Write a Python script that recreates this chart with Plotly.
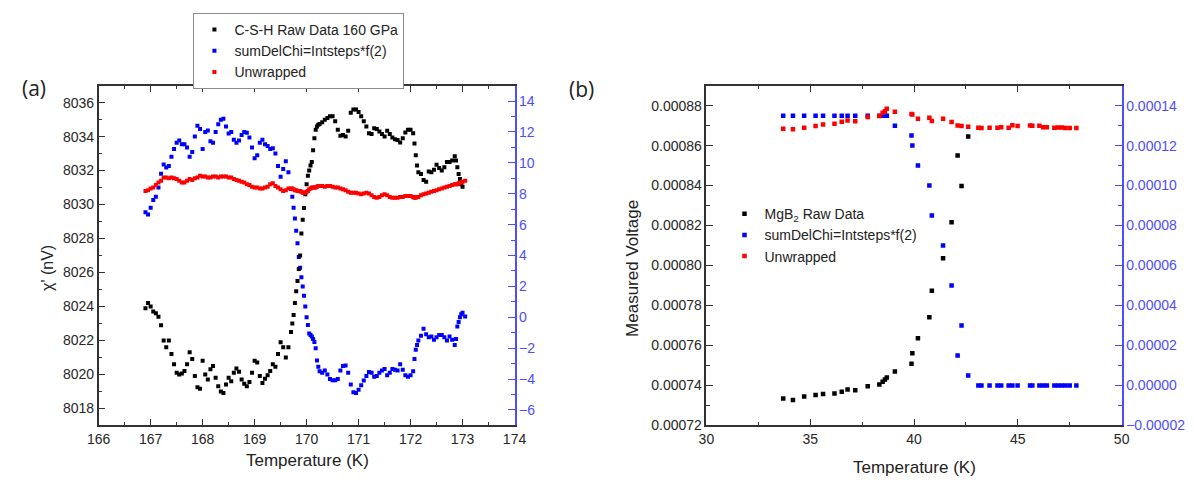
import plotly.graph_objects as go

# page is rendered with the browser's default 8px body margin: work in page pixels and convert
PAGE_W, PAGE_H = 1198, 484
OFF = 8
W, H = PAGE_W - OFF, PAGE_H - OFF


def fx(px):
    return (px - OFF) / W


def fy(py):
    return 1 - (py - OFF) / H


# ---------------- Panel (a): C-S-H 160 GPa ----------------
csh_temp = [
    166.90, 166.95, 167.00, 167.05, 167.10, 167.15, 167.20, 167.25, 167.30, 167.35,
    167.40, 167.45, 167.50, 167.55, 167.60, 167.65, 167.70, 167.75, 167.80, 167.85,
    167.90, 167.95, 168.00, 168.05, 168.10, 168.15, 168.20, 168.25, 168.30, 168.35,
    168.40, 168.45, 168.50, 168.55, 168.60, 168.65, 168.70, 168.75, 168.80, 168.85,
    168.90, 168.95, 169.00, 169.05, 169.10, 169.15, 169.20, 169.25, 169.30, 169.35,
    169.40, 169.45, 169.50, 169.55, 169.60, 169.65, 169.70, 169.75, 169.80, 169.85,
    169.90, 169.95, 170.00, 170.05, 170.10, 170.15, 170.20, 170.25, 170.30, 170.35,
    170.40, 170.45, 170.50, 170.55, 170.60, 170.65, 170.70, 170.75, 170.80, 170.85,
    170.90, 170.95, 171.00, 171.05, 171.10, 171.15, 171.20, 171.25, 171.30, 171.35,
    171.40, 171.45, 171.50, 171.55, 171.60, 171.65, 171.70, 171.75, 171.80, 171.85,
    171.90, 171.95, 172.00, 172.05, 172.10, 172.15, 172.20, 172.25, 172.30, 172.35,
    172.40, 172.45, 172.50, 172.55, 172.60, 172.65, 172.70, 172.75, 172.80, 172.85,
    172.90, 172.95, 173.00, 173.05,
    # denser readings in the steep parts
    169.725, 169.775, 169.825, 169.875, 169.925, 169.975, 170.025, 170.075, 170.125, 170.175,
    170.225, 172.075, 172.125, 172.875, 172.925, 172.975,
]

csh_raw = [
    8023.9, 8024.2, 8024.0, 8023.7, 8023.6, 8023.4, 8022.9, 8022.0, 8021.6, 8022.0,
    8021.2, 8020.6, 8020.1, 8020.0, 8020.05, 8020.2, 8020.6, 8021.3, 8020.9, 8019.9,
    8019.25, 8019.15, 8020.8, 8020.0, 8019.7, 8020.3, 8020.5, 8019.8, 8019.3, 8019.0,
    8018.9, 8019.4, 8019.8, 8019.6, 8020.1, 8020.35, 8020.15, 8019.7, 8019.45, 8019.3,
    8019.55, 8020.1, 8020.8, 8020.7, 8019.9, 8019.5, 8019.75, 8019.95, 8020.2, 8020.6,
    8020.45, 8021.2, 8021.9, 8021.6, 8021.0, 8021.6, 8022.5, 8023.5, 8024.9, 8026.2,
    8028.3, 8029.8, 8031.2, 8032.0, 8032.5, 8033.9, 8034.6, 8034.75, 8034.85, 8035.0,
    8035.1, 8035.2, 8035.2, 8034.9, 8034.4, 8034.05, 8034.1, 8034.0, 8034.35, 8035.4,
    8035.6, 8035.6, 8035.45, 8035.2, 8034.9, 8034.6, 8034.2, 8034.15, 8034.5, 8034.45,
    8034.3, 8034.15, 8034.0, 8034.35, 8034.15, 8033.95, 8033.85, 8033.8, 8033.65, 8033.9,
    8034.25, 8034.4, 8034.4, 8034.2, 8032.9, 8031.9, 8031.8, 8031.45, 8031.35, 8031.95,
    8031.9, 8032.05, 8032.35, 8032.15, 8032.0, 8032.2, 8032.5, 8032.5, 8032.6, 8032.85,
    8032.2, 8031.5, 8031.05, None,
    8023.0, 8024.2, 8025.5, 8027.0, 8029.1, 8030.6, 8031.7, 8032.3, 8033.2, 8034.4,
    8034.7, 8033.6, 8032.3, 8032.6, 8031.8, 8031.2,
]

csh_sumdelchi = [
    6.8, 6.65, 7.1, 7.6, 7.8, 8.4, 9.3, 9.9, 9.7, 9.8,
    10.4, 10.9, 11.3, 11.45, 11.2, 11.2, 11.0, 10.4, 10.7, 11.7,
    12.4, 12.2, 10.9, 12.0, 12.1, 11.4, 11.3, 12.0, 12.5, 12.8,
    12.85, 12.35, 11.9, 12.0, 11.5, 11.3, 11.45, 11.8, 12.0, 11.95,
    11.65, 11.0, 10.3, 10.5, 11.3, 11.5, 11.2, 11.1, 10.9, 10.95,
    10.6, 9.8, 9.1, 9.6, 10.1, 9.4, 8.3, 7.1, 5.6, 3.9,
    2.6, 1.4, 0.0, -1.05, -1.25, -1.6, -2.8, -3.5, -3.6, -3.45,
    -3.7, -4.0, -4.08, -4.08, -4.0, -3.45, -3.15, -3.13, -3.6, -4.35,
    -4.85, -4.9, -4.7, -4.4, -4.1, -3.8, -3.55, -3.6, -3.85, -3.8,
    -3.6, -3.45, -3.35, -3.75, -3.6, -3.35, -3.4, -3.45, -3.05, -3.4,
    -3.75, -3.85, -3.75, -3.5, -2.1, -1.5, -1.2, -0.75, -1.1, -1.3,
    -1.25, -1.45, -1.3, -1.15, -1.15, -1.3, -1.5, -1.25, -1.45, -1.8,
    -0.6, 0.0, 0.3, 0.05,
    7.8, 6.4, 4.8, 3.2, 2.0, 0.7, -0.5, -1.15, -1.4, -2.0,
    -3.2, -2.7, -1.8, -1.4, -0.3, 0.2,
]

csh_unwrapped = [
    8030.8, 8030.85, 8030.95, 8031.0, 8031.15, 8031.3, 8031.4, 8031.6, 8031.6, 8031.55,
    8031.6, 8031.55, 8031.5, 8031.4, 8031.3, 8031.3, 8031.4, 8031.5, 8031.45, 8031.55,
    8031.6, 8031.7, 8031.65, 8031.65, 8031.6, 8031.6, 8031.65, 8031.65, 8031.6, 8031.65,
    8031.65, 8031.65, 8031.6, 8031.6, 8031.5, 8031.45, 8031.4, 8031.35, 8031.3, 8031.2,
    8031.15, 8031.05, 8031.0, 8031.0, 8030.95, 8030.95, 8031.0, 8031.05, 8031.2, 8031.25,
    8031.1, 8031.0, 8030.9, 8030.8, 8030.85, 8030.95, 8030.95, 8030.9, 8030.85, 8030.8,
    8030.75, 8030.7, 8030.75, 8030.9, 8031.0, 8031.0, 8031.05, 8031.1, 8031.1, 8031.05,
    8031.1, 8031.1, 8031.05, 8031.0, 8031.0, 8030.95, 8030.9, 8030.85, 8030.75, 8030.7,
    8030.7, 8030.7, 8030.65, 8030.6, 8030.65, 8030.7, 8030.65, 8030.55, 8030.45, 8030.4,
    8030.45, 8030.55, 8030.6, 8030.55, 8030.45, 8030.4, 8030.4, 8030.4, 8030.45, 8030.45,
    8030.5, 8030.5, 8030.5, 8030.45, 8030.4, 8030.45, 8030.55, 8030.6, 8030.65, 8030.7,
    8030.75, 8030.8, 8030.85, 8030.9, 8030.95, 8031.0, 8031.05, 8031.1, 8031.15, 8031.2,
    8031.2, 8031.3, 8031.35, 8031.4,
    8030.95, 8030.85, 8030.8, 8030.8, 8030.7, 8030.7, 8030.8, 8030.95, 8031.0, 8031.0,
    8031.1, 8030.4, 8030.45, 8031.2, 8031.25, 8031.3,
]

# ---------------- Panel (b): MgB2 ----------------
mgb2_temp = [
    33.70, 34.17, 34.71, 35.26, 35.62, 36.17, 36.52, 36.80, 37.17, 37.77,
    38.33, 38.49, 38.60, 38.69, 39.08, 39.88, 39.92, 40.19, 40.74, 40.86,
    41.40, 41.81, 42.10, 42.29, 42.61,
    43.10, 43.25, 43.64, 44.02, 44.20, 44.56, 44.74, 44.99, 45.59, 45.70,
    46.04, 46.22, 46.40, 46.76, 46.94, 47.12, 47.30, 47.50, 47.82,
]

mgb2_raw = [
    0.0007335, 0.0007327, 0.0007344, 0.0007352, 0.0007357, 0.0007360, 0.0007368, 0.0007380, 0.0007376, 0.0007396,
    0.0007404, 0.0007418, 0.0007430, 0.0007440, 0.0007470, 0.0007508, 0.0007561, 0.0007636, 0.0007741, 0.0007874,
    0.0008036, 0.0008217, 0.0008551, 0.0008398, 0.0008646,
    None, None, None, None, None, None, None, None, None, None,
    None, None, None, None, None, None, None, None, None,
]

mgb2_sumdelchi = [
    0.000135, 0.000135, 0.000135, 0.000135, 0.000135, 0.000135, 0.000135, 0.000135, 0.000135, 0.000135,
    0.000135, 0.000135, 0.000135, 0.000135, 0.000130, 0.000125, 0.000120, 0.000110, 0.000100, 0.000085,
    0.000070, 0.000050, 0.000015, 0.000030, 0.000005,
    0.0, 0.0, 0.0, 0.0, 0.0, 0.0, 0.0, 0.0, 0.0, 0.0,
    0.0, 0.0, 0.0, 0.0, 0.0, 0.0, 0.0, 0.0, 0.0,
]

mgb2_unwrapped = [
    0.0008685, 0.0008682, 0.0008690, 0.0008698, 0.0008706, 0.0008710, 0.0008720, 0.0008726, 0.0008722, 0.0008743,
    0.0008748, 0.0008764, 0.0008772, 0.0008785, 0.0008769, 0.0008758, 0.0008756, 0.0008734, 0.0008739, 0.0008723,
    0.0008734, 0.0008718, 0.0008701, 0.0008698, 0.0008695,
    0.0008690, 0.0008688, 0.0008690, 0.0008690, 0.0008692, 0.0008690, 0.0008702, 0.0008698, 0.0008701, 0.0008700,
    0.0008699, 0.0008692, 0.0008692, 0.0008690, 0.0008691, 0.0008691, 0.0008688, 0.0008688, 0.0008688,
]

FONT = "Liberation Sans, Arial, sans-serif"
BLACK_AX = "#333333"
BLUE_AX = "#4d4dff"
TICK_TXT = "#262626"

fig = go.Figure()

# panel (a): blue on base axis 'y' (right side); black/red on overlaying 'y2' (left) so they draw on top
fig.add_trace(go.Scatter(x=csh_temp, y=csh_raw, mode="markers", name="C-S-H Raw Data 160 GPa",
                         marker=dict(color="#000000", size=4, symbol="square"),
                         xaxis="x", yaxis="y2", legend="legend"))
fig.add_trace(go.Scatter(x=csh_temp, y=csh_sumdelchi, mode="markers", name="sumDelChi=Intsteps*f(2)",
                         marker=dict(color="#0000ff", size=4, symbol="square"),
                         xaxis="x", yaxis="y", legend="legend"))
fig.add_trace(go.Scatter(x=csh_temp, y=csh_unwrapped, mode="markers", name="Unwrapped",
                         marker=dict(color="#ff0000", size=4, symbol="square"),
                         xaxis="x", yaxis="y2", legend="legend"))

# panel (b)
fig.add_trace(go.Scatter(x=mgb2_temp, y=mgb2_raw, mode="markers", name="MgB<sub>2</sub> Raw Data",
                         marker=dict(color="#000000", size=4.5, symbol="square"),
                         xaxis="x2", yaxis="y4", legend="legend2"))
fig.add_trace(go.Scatter(x=mgb2_temp, y=mgb2_sumdelchi, mode="markers", name="sumDelChi=Intsteps*f(2)",
                         marker=dict(color="#0000ff", size=4.5, symbol="square"),
                         xaxis="x2", yaxis="y3", legend="legend2"))
fig.add_trace(go.Scatter(x=mgb2_temp, y=mgb2_unwrapped, mode="markers", name="Unwrapped",
                         marker=dict(color="#ff0000", size=4.5, symbol="square"),
                         xaxis="x2", yaxis="y4", legend="legend2"))

ydom = [fy(432.5), fy(87)]
xa_dom = [fx(88.3), fx(512.7)]
xb_dom = [fx(708.5), fx(1132.3)]


def xaxis_common(rng, dtick, minor_dtick, anchor, dom):
    return dict(domain=dom, range=rng, dtick=dtick, anchor=anchor,
                ticks="inside", ticklen=7, tickwidth=1.3, tickcolor=BLACK_AX,
                minor=dict(dtick=minor_dtick, ticks="inside", ticklen=4, tickwidth=1.3,
                           tickcolor=BLACK_AX, showgrid=False),
                showline=True, linecolor=BLACK_AX, linewidth=1.5, mirror="ticks",
                showgrid=False, zeroline=False,
                tickfont=dict(family=FONT, size=14, color=TICK_TXT))


def yaxis_common(rng, dtick, minor_dtick, side, color, txtcolor, tickformat=None, tick0=None):
    d = dict(range=rng, dtick=dtick, side=side,
             ticks="inside", ticklen=7, tickwidth=1.3, tickcolor=color,
             minor=dict(dtick=minor_dtick, ticks="inside", ticklen=4, tickwidth=1.3,
                        tickcolor=color, showgrid=False),
             showline=True, linecolor=color, linewidth=1.5,
             showgrid=False, zeroline=False,
             tickfont=dict(family=FONT, size=14, color=txtcolor))
    if tickformat:
        d["tickformat"] = tickformat
    if tick0 is not None:
        d["tick0"] = tick0
        d["minor"]["tick0"] = tick0
    return d


ya = yaxis_common([-7, 15], 2, 1, "right", BLUE_AX, BLUE_AX)
ya.update(domain=ydom, anchor="x")
ya2 = yaxis_common([8017, 8037], 2, 1, "left", BLACK_AX, TICK_TXT)
ya2.update(overlaying="y", anchor="x")

yb3 = yaxis_common([-0.00002, 0.00015], 0.00002, 0.00001, "right", BLUE_AX, BLUE_AX, ".5f", 0)
yb3.update(domain=ydom, anchor="x2")
yb4 = yaxis_common([0.00072, 0.00089], 0.00002, 0.00001, "left", BLACK_AX, TICK_TXT, ".5f", 0.00072)
yb4.update(overlaying="y3", anchor="x2")

fig.update_layout(
    width=W, height=H, autosize=False,
    margin=dict(l=0, r=0, t=0, b=0),
    paper_bgcolor="white", plot_bgcolor="white",
    font=dict(family=FONT, size=14, color="#222222"),
    xaxis=xaxis_common([166, 174], 1, 0.5, "y", xa_dom),
    xaxis2=xaxis_common([30, 50], 5, 2.5, "y3", xb_dom),
    yaxis=ya, yaxis2=ya2, yaxis3=yb3, yaxis4=yb4,
    legend=dict(x=fx(185), y=fy(13), xanchor="left", yanchor="top",
                bordercolor="#8c8c8c", borderwidth=1, bgcolor="white",
                font=dict(family=FONT, size=14, color="#222222"), traceorder="normal"),
    legend2=dict(x=fx(727), y=fy(239), xanchor="left", yanchor="middle",
                 bgcolor="rgba(0,0,0,0)", borderwidth=0,
                 font=dict(family=FONT, size=14, color="#222222"), traceorder="normal"),
    showlegend=True,
)

annotations = [
    dict(text="(a)", x=fx(22), y=fy(89), font=dict(family="Open Sans, sans-serif", size=21, color="#222222")),
    dict(text="(b)", x=fx(581), y=fy(90), font=dict(family="Open Sans, sans-serif", size=21, color="#222222")),
    dict(text="Temperature (K)", x=fx(301), y=fy(468), font=dict(family=FONT, size=17, color="#222222")),
    dict(text="Temperature (K)", x=fx(921), y=fy(475), font=dict(family=FONT, size=17, color="#222222")),
    dict(text="\u03c7' (nV)", x=fx(36), y=fy(272), textangle=-90, font=dict(family=FONT, size=16, color="#222222")),
    dict(text="Measured Voltage", x=fx(633), y=fy(273), textangle=-90, font=dict(family=FONT, size=17, color="#222222")),
]
for a in annotations:
    a.update(xref="paper", yref="paper", xanchor="center", yanchor="middle", showarrow=False)
fig.update_layout(annotations=annotations)

fig.write_html("out.html")
